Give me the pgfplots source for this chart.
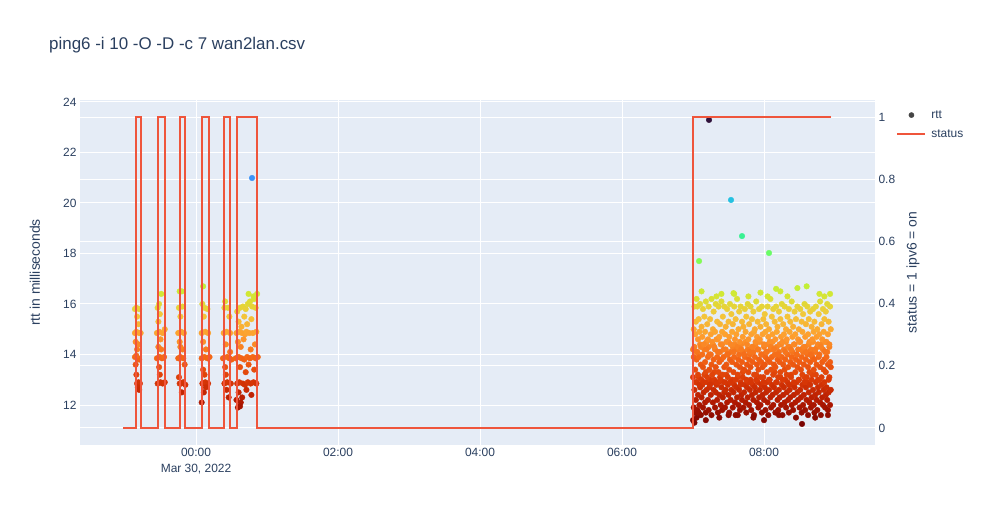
\documentclass[border=0pt]{standalone}
\usepackage{pgfplots}
\usepackage{pgfplotstable}
\pgfplotsset{compat=1.18}
\usepackage{fontspec}
\setmainfont{Liberation Sans}
\definecolor{ptext}{HTML}{2A3F5F}
\definecolor{pbg}{HTML}{E5ECF6}
\definecolor{pred}{HTML}{EF553B}
\pgfplotsset{colormap={turbor}{rgb255=(122,4,2) rgb255=(177,25,1) rgb255=(217,56,6) rgb255=(243,99,21) rgb255=(254,155,45) rgb255=(243,198,58) rgb255=(209,232,52) rgb255=(164,252,59) rgb255=(97,252,108) rgb255=(36,236,166) rgb255=(27,207,212) rgb255=(57,162,252) rgb255=(70,117,237) rgb255=(65,69,171) rgb255=(48,18,59)}}
\pgfplotsset{pbase/.style={scale only axis, width=795bp, height=345bp, xmin=-1.634, xmax=9.563,
  axis line style={draw=none}, major tick length=0pt,
  tick label style={font=\fontsize{12}{16}\selectfont, text=ptext},
  /pgf/number format/assume math mode=true}}
\pgfplotsset{rttscatter/.style={scatter, only marks, mark=*, mark size=2.8bp, point meta=y,
  scatter/use mapped color={draw=mapped color, fill=mapped color}}}

% late block: time in hours, three readings per time step
\pgfplotstableread[row sep=\\]{
x a b c\\
7.00 11.4 13.1 14.2\\ 7.01 11.9 13.9 15.0\\ 7.02 12.6 14.3 15.9\\ 7.03 11.7 13.4 14.8\\ 7.04 12.2 12.9 15.3\\
7.05 12.9 13.8 14.1\\ 7.06 11.8 14.1 15.9\\ 7.07 12.4 13.2 14.6\\ 7.08 13.1 13.9 15.4\\ 7.09 12.0 12.8 14.9\\
7.10 12.7 14.4 16.0\\ 7.11 11.6 13.6 14.3\\ 7.12 12.3 13.0 15.1\\ 7.13 12.8 14.0 14.7\\ 7.14 11.9 13.5 15.8\\
7.15 12.5 12.9 14.4\\ 7.16 13.2 14.2 15.5\\ 7.17 12.1 13.7 14.9\\ 7.18 11.7 13.3 16.1\\ 7.19 12.6 14.5 14.2\\
7.20 12.9 13.1 15.2\\ 7.21 12.2 13.9 14.6\\ 7.22 11.8 14.3 15.9\\ 7.23 12.7 13.4 14.0\\ 7.24 13.0 12.8 15.4\\
7.25 12.4 14.0 14.8\\ 7.26 11.6 13.6 16.2\\ 7.27 12.9 13.2 14.5\\ 7.28 12.1 14.4 15.0\\ 7.29 12.6 13.8 15.7\\
7.30 13.3 13.0 14.3\\ 7.31 11.9 14.2 14.9\\ 7.32 12.5 13.5 16.0\\ 7.33 12.8 12.9 14.6\\ 7.34 12.2 13.9 15.3\\
7.35 11.7 14.6 14.1\\ 7.36 12.9 13.3 15.9\\ 7.37 12.4 13.7 14.7\\ 7.38 13.1 14.1 15.2\\ 7.39 12.0 13.0 14.4\\
7.40 12.7 13.8 16.1\\ 7.41 11.8 14.4 14.9\\ 7.42 12.3 13.2 15.5\\ 7.43 12.9 13.9 14.2\\ 7.44 12.5 13.5 15.9\\
7.45 11.9 12.9 14.8\\ 7.46 12.6 14.2 15.1\\ 7.47 13.2 13.6 14.5\\ 7.48 12.1 14.0 15.8\\ 7.49 12.8 13.1 14.0\\
7.50 12.4 14.5 15.3\\ 7.51 11.7 13.4 14.7\\ 7.52 12.9 13.8 16.0\\ 7.53 12.2 14.1 14.4\\ 7.54 12.6 12.9 15.6\\
7.55 13.0 13.7 14.9\\ 7.56 11.9 14.3 15.2\\ 7.57 12.5 13.3 14.1\\ 7.58 12.8 13.9 15.9\\ 7.59 12.1 14.4 14.6\\
7.60 11.6 13.0 15.4\\ 7.61 12.7 13.6 14.8\\ 7.62 12.3 14.2 16.2\\ 7.63 13.1 13.2 14.3\\ 7.64 12.0 13.8 15.0\\
7.65 12.6 14.0 15.7\\ 7.66 11.8 13.5 14.5\\ 7.67 12.9 12.8 15.9\\ 7.68 12.4 14.4 14.2\\ 7.69 12.2 13.7 15.3\\
7.70 13.3 13.1 14.7\\ 7.71 11.9 14.1 15.1\\ 7.72 12.5 13.4 14.0\\ 7.73 12.8 13.9 15.8\\ 7.74 12.1 14.5 14.9\\
7.75 11.7 13.0 15.5\\ 7.76 12.7 13.6 14.4\\ 7.77 12.3 14.2 16.0\\ 7.78 12.9 13.3 14.6\\ 7.79 12.0 13.8 15.2\\
7.80 12.6 14.0 14.1\\ 7.81 13.0 13.5 15.9\\ 7.82 11.8 12.9 14.8\\ 7.83 12.4 14.3 15.4\\ 7.84 12.8 13.7 14.3\\
7.85 12.2 14.1 15.7\\ 7.86 11.6 13.2 14.9\\ 7.87 12.7 13.9 15.0\\ 7.88 12.5 14.4 14.5\\ 7.89 13.2 13.0 16.1\\
7.90 12.1 13.6 14.7\\ 7.91 12.9 14.2 15.3\\ 7.92 11.9 13.4 14.2\\ 7.93 12.3 13.8 15.8\\ 7.94 12.6 14.5 14.6\\
7.95 12.0 13.1 15.1\\ 7.96 12.8 13.7 14.0\\ 7.97 11.7 14.0 15.9\\ 7.98 12.4 13.5 14.8\\ 7.99 13.1 12.9 15.4\\
8.00 12.2 14.3 14.4\\ 8.01 12.7 13.6 15.6\\ 8.02 11.8 13.9 14.9\\ 8.03 12.5 14.1 15.2\\ 8.04 12.9 13.3 14.1\\
8.05 12.1 13.8 15.9\\ 8.06 11.6 14.4 14.7\\ 8.07 12.6 13.0 15.0\\ 8.08 13.0 13.7 14.5\\ 8.09 12.3 14.2 16.2\\
8.10 11.9 13.4 14.3\\ 8.11 12.8 13.9 15.5\\ 8.12 12.4 14.5 14.8\\ 8.13 12.0 13.2 15.8\\ 8.14 12.7 13.6 14.2\\
8.15 13.3 14.0 15.3\\ 8.16 11.7 13.5 14.6\\ 8.17 12.5 12.9 15.9\\ 8.18 12.9 14.3 14.9\\ 8.19 12.2 13.8 15.1\\
8.20 11.8 13.1 14.0\\ 8.21 12.6 14.1 15.7\\ 8.22 12.3 13.7 14.4\\ 8.23 13.1 13.3 15.4\\ 8.24 12.0 14.4 14.7\\
8.25 12.8 13.9 16.0\\ 8.26 11.6 13.0 14.5\\ 8.27 12.4 13.6 15.2\\ 8.28 12.7 14.2 14.8\\ 8.29 12.1 13.4 15.9\\
8.30 13.0 13.8 14.1\\ 8.31 11.9 14.5 15.0\\ 8.32 12.5 13.2 14.6\\ 8.33 12.9 14.0 15.5\\ 8.34 12.2 13.5 14.3\\
8.35 11.7 12.8 15.8\\ 8.36 12.6 14.3 14.9\\ 8.37 12.3 13.7 15.3\\ 8.38 13.2 13.1 14.2\\ 8.39 12.0 13.9 16.1\\
8.40 12.8 14.1 14.7\\ 8.41 11.8 13.6 15.1\\ 8.42 12.4 12.9 14.4\\ 8.43 12.7 14.4 15.7\\ 8.44 12.1 13.3 14.8\\
8.45 11.5 13.8 15.4\\ 8.46 12.9 14.0 14.0\\ 8.47 12.5 13.5 15.9\\ 8.48 12.2 14.2 14.6\\ 8.49 13.0 13.0 15.0\\
8.50 11.9 13.7 14.5\\ 8.51 12.6 14.5 15.8\\ 8.52 12.3 13.4 14.2\\ 8.53 11.7 13.9 15.3\\ 8.54 12.8 13.2 14.9\\
8.55 12.0 14.1 15.6\\ 8.56 12.4 13.6 14.3\\ 8.57 13.1 12.9 16.0\\ 8.58 11.8 14.3 14.7\\ 8.59 12.7 13.8 15.2\\
8.60 12.2 13.1 14.1\\ 8.61 12.9 14.0 15.9\\ 8.62 11.6 13.5 14.8\\ 8.63 12.5 14.4 15.4\\ 8.64 12.1 13.3 14.5\\
8.65 12.8 13.7 15.7\\ 8.66 11.9 14.2 14.0\\ 8.67 12.3 13.0 15.1\\ 8.68 13.2 13.9 14.6\\ 8.69 12.6 14.5 15.8\\
8.70 12.0 13.4 14.9\\ 8.71 11.7 13.8 15.3\\ 8.72 12.4 14.1 14.2\\ 8.73 12.9 13.2 15.9\\ 8.74 12.2 13.6 14.7\\
8.75 11.8 14.3 15.0\\ 8.76 12.7 13.0 14.4\\ 8.77 12.5 13.9 15.6\\ 8.78 13.0 14.0 14.8\\ 8.79 12.1 13.5 16.1\\
8.80 11.6 14.4 14.3\\ 8.81 12.8 13.1 15.2\\ 8.82 12.3 13.7 14.6\\ 8.83 12.0 14.2 15.8\\ 8.84 12.6 13.4 14.9\\
8.85 12.9 13.8 15.4\\ 8.86 11.9 14.5 14.1\\ 8.87 12.4 13.3 15.7\\ 8.88 12.7 13.9 14.5\\ 8.89 12.2 14.1 16.0\\
8.90 11.8 13.6 14.8\\ 8.91 12.5 13.0 15.3\\ 8.92 13.1 14.3 14.4\\ 8.93 12.0 13.7 15.9\\ 8.94 12.6 13.5 15.0\\
}\late

% sparse readings: upper yellow, lower dark red, outliers
\pgfplotstableread[row sep=\\]{
x y\\
7.12 16.5\\ 7.33 16.3\\ 7.58 16.4\\ 7.78 16.3\\ 7.95 16.45\\ 8.17 16.6\\ 8.23 16.5\\ 8.33 16.3\\
8.47 16.63\\ 8.60 16.7\\ 8.78 16.4\\ 8.85 16.3\\ 8.93 16.4\\ 7.05 16.2\\ 7.40 16.4\\ 8.05 16.3\\ 7.57 16.43\\
7.02 11.3\\ 7.05 11.5\\ 7.18 11.4\\ 7.37 11.5\\ 7.63 11.6\\ 7.85 11.5\\ 8.00 11.4\\ 8.21 11.6\\
8.535 11.25\\ 8.72 11.5\\ 8.90 11.6\\ 7.08 11.7\\ 7.50 11.6\\
7.085 17.70\\ 7.225 23.29\\ 7.535 20.12\\ 7.69 18.69\\ 8.07 18.02\\ 0.789 20.99\\
}\sparse

% early blocks
\pgfplotstableread[row sep=\\]{
x y\\
-0.86 15.8\\ -0.84 15.85\\ -0.80 15.8\\ -0.83 15.5\\ -0.81 15.2\\ -0.86 14.85\\ -0.84 14.9\\ -0.80 14.85\\
-0.78 14.85\\ -0.85 14.5\\ -0.83 14.2\\ -0.86 13.9\\ -0.82 13.85\\ -0.80 13.8\\ -0.84 13.95\\ -0.85 13.6\\
-0.83 12.85\\ -0.81 12.9\\ -0.79 12.85\\ -0.82 12.7\\ -0.80 12.6\\ -0.84 13.2\\ -0.81 14.4\\
-0.54 15.85\\ -0.52 16.0\\ -0.49 16.4\\ -0.51 15.6\\ -0.53 15.3\\ -0.55 14.85\\ -0.52 14.9\\ -0.47 14.85\\
-0.44 15.0\\ -0.50 14.6\\ -0.53 14.3\\ -0.55 13.85\\ -0.51 13.9\\ -0.48 13.85\\ -0.45 13.9\\ -0.52 13.5\\
-0.54 12.85\\ -0.50 12.9\\ -0.47 12.85\\ -0.44 12.9\\ -0.51 13.2\\ -0.49 14.2\\
-0.23 16.5\\ -0.20 16.5\\ -0.24 15.85\\ -0.19 15.9\\ -0.22 15.5\\ -0.25 14.85\\ -0.21 14.9\\ -0.17 14.85\\
-0.23 14.5\\ -0.19 14.2\\ -0.25 13.85\\ -0.22 13.9\\ -0.18 13.85\\ -0.16 13.6\\ -0.24 13.1\\ -0.21 12.85\\
-0.18 12.9\\ -0.23 12.85\\ -0.15 12.8\\ -0.20 12.5\\ -0.22 14.3\\
0.10 16.7\\ 0.09 16.0\\ 0.12 15.85\\ 0.16 15.8\\ 0.11 15.5\\ 0.08 14.85\\ 0.13 14.9\\ 0.17 14.85\\
0.10 14.5\\ 0.14 14.2\\ 0.08 13.85\\ 0.12 13.9\\ 0.16 13.85\\ 0.19 13.9\\ 0.10 13.4\\ 0.09 12.85\\
0.13 12.9\\ 0.17 12.85\\ 0.11 12.5\\ 0.08 12.1\\ 0.14 12.7\\ 0.12 13.2\\
0.41 16.1\\ 0.45 15.85\\ 0.40 15.85\\ 0.47 15.5\\ 0.39 14.85\\ 0.43 14.9\\ 0.48 14.85\\ 0.42 14.4\\
0.38 13.85\\ 0.44 13.9\\ 0.47 13.85\\ 0.50 13.8\\ 0.41 13.5\\ 0.40 12.85\\ 0.44 12.9\\ 0.49 12.85\\
0.43 12.6\\ 0.46 12.3\\ 0.42 13.2\\ 0.48 14.1\\
0.58 15.7\\ 0.62 15.85\\ 0.66 15.9\\ 0.70 15.8\\ 0.73 16.0\\ 0.76 16.1\\ 0.79 15.9\\ 0.82 16.2\\
0.84 15.85\\ 0.74 16.4\\ 0.81 16.3\\ 0.86 16.4\\ 0.60 15.3\\ 0.64 15.1\\ 0.68 15.5\\ 0.72 15.2\\ 0.78 15.4\\
0.57 14.85\\ 0.61 14.9\\ 0.65 14.85\\ 0.69 14.8\\ 0.71 14.9\\ 0.75 14.85\\ 0.80 14.85\\ 0.85 14.9\\
0.59 14.5\\ 0.63 14.3\\ 0.67 14.6\\ 0.77 14.2\\ 0.83 14.4\\
0.56 13.85\\ 0.60 13.9\\ 0.64 13.85\\ 0.68 13.8\\ 0.72 13.9\\ 0.76 13.85\\ 0.80 13.9\\ 0.84 13.85\\ 0.87 13.9\\
0.62 13.5\\ 0.70 13.3\\ 0.74 13.6\\ 0.82 13.4\\
0.58 12.85\\ 0.61 12.9\\ 0.66 12.85\\ 0.69 12.8\\ 0.73 12.9\\ 0.77 12.85\\ 0.81 12.9\\ 0.85 12.85\\
0.60 12.5\\ 0.65 12.3\\ 0.71 12.6\\ 0.78 12.4\\ 0.63 12.1\\ 0.59 11.9\\ 0.62 11.95\\ 0.57 12.2\\
}\early

\begin{document}
\begin{tikzpicture}
\useasboundingbox (-80bp,-80bp) rectangle (901bp,445bp);
% background, grids, right axis, x axis
\begin{axis}[pbase, ymin=-0.0547, ymax=1.0547,
  axis background/.style={fill=pbg},
  xtick={0,2,4,6,8},
  xticklabels={{00:00\\Mar 30, 2022},02:00,04:00,06:00,08:00},
  xticklabel style={align=center},
  ytick={0,0.2,0.4,0.6,0.8,1}, yticklabels={0,0.2,0.4,0.6,0.8,1},
  yticklabel pos=right,
  grid=major, major grid style={white, line width=1bp},
  ylabel={status = 1 ipv6 = on},
  ylabel style={at={(axis description cs:1.0478,0.5)}, anchor=center, font=\fontsize{14}{16}\selectfont, text=ptext}]
\addplot[draw=none] coordinates {(0,0)};
\end{axis}
% rtt scatter
\begin{axis}[pbase, ymin=10.416, ymax=24.079,
  xtick=\empty, ytick={12,14,16,18,20,22,24},
  ymajorgrids, major grid style={white, line width=1bp},
  colormap name=turbor, point meta min=11.25, point meta max=23.29,
  ylabel={rtt in milliseconds},
  ylabel style={at={(axis description cs:-0.0566,0.5)}, anchor=center, font=\fontsize{14}{16}\selectfont, text=ptext}]
\addplot[rttscatter] table[x=x, y=a] \late;
\addplot[rttscatter] table[x=x, y=b] \late;
\addplot[rttscatter] table[x=x, y=c] \late;
\addplot[rttscatter] table[x=x, y=y] \early;
\addplot[rttscatter] table[x=x, y=y] \sparse;
\end{axis}
% status line and legend
\begin{axis}[pbase, ymin=-0.0547, ymax=1.0547, hide axis,
  legend style={at={(axis description cs:1.0267,0.976)}, anchor=north west, draw=none, fill=none,
    font=\fontsize{12}{14}\selectfont, text=ptext, row sep=6bp, inner sep=0pt, cells={anchor=west},
    /tikz/every odd column/.style={column sep=3bp}},
  legend image code/.code={\draw[#1] (0bp,0bp) -- (28bp,0bp);}]
\addlegendimage{legend image code/.code={\fill[black!73] (14bp,0bp) circle (2.6bp);}}
\addlegendentry{rtt}
\addplot[pred, line width=2bp] coordinates {
(-1.028,0) (-0.849,0) (-0.849,1) (-0.775,1) (-0.775,0) (-0.539,0) (-0.539,1) (-0.437,1) (-0.437,0)
(-0.230,0) (-0.230,1) (-0.151,1) (-0.151,0) (0.085,0) (0.085,1) (0.183,1) (0.183,0)
(0.394,0) (0.394,1) (0.483,1) (0.483,0) (0.577,0) (0.577,1) (0.863,1) (0.863,0)
(7.0,0) (7.0,1) (8.944,1)};
\addlegendentry{status}
\end{axis}
\node[anchor=west, inner sep=0pt, font=\fontsize{17}{20}\selectfont, text=ptext] at (-31bp,400bp) {ping6 -i 10 -O -D -c 7 wan2lan.csv};
\end{tikzpicture}
\end{document}
